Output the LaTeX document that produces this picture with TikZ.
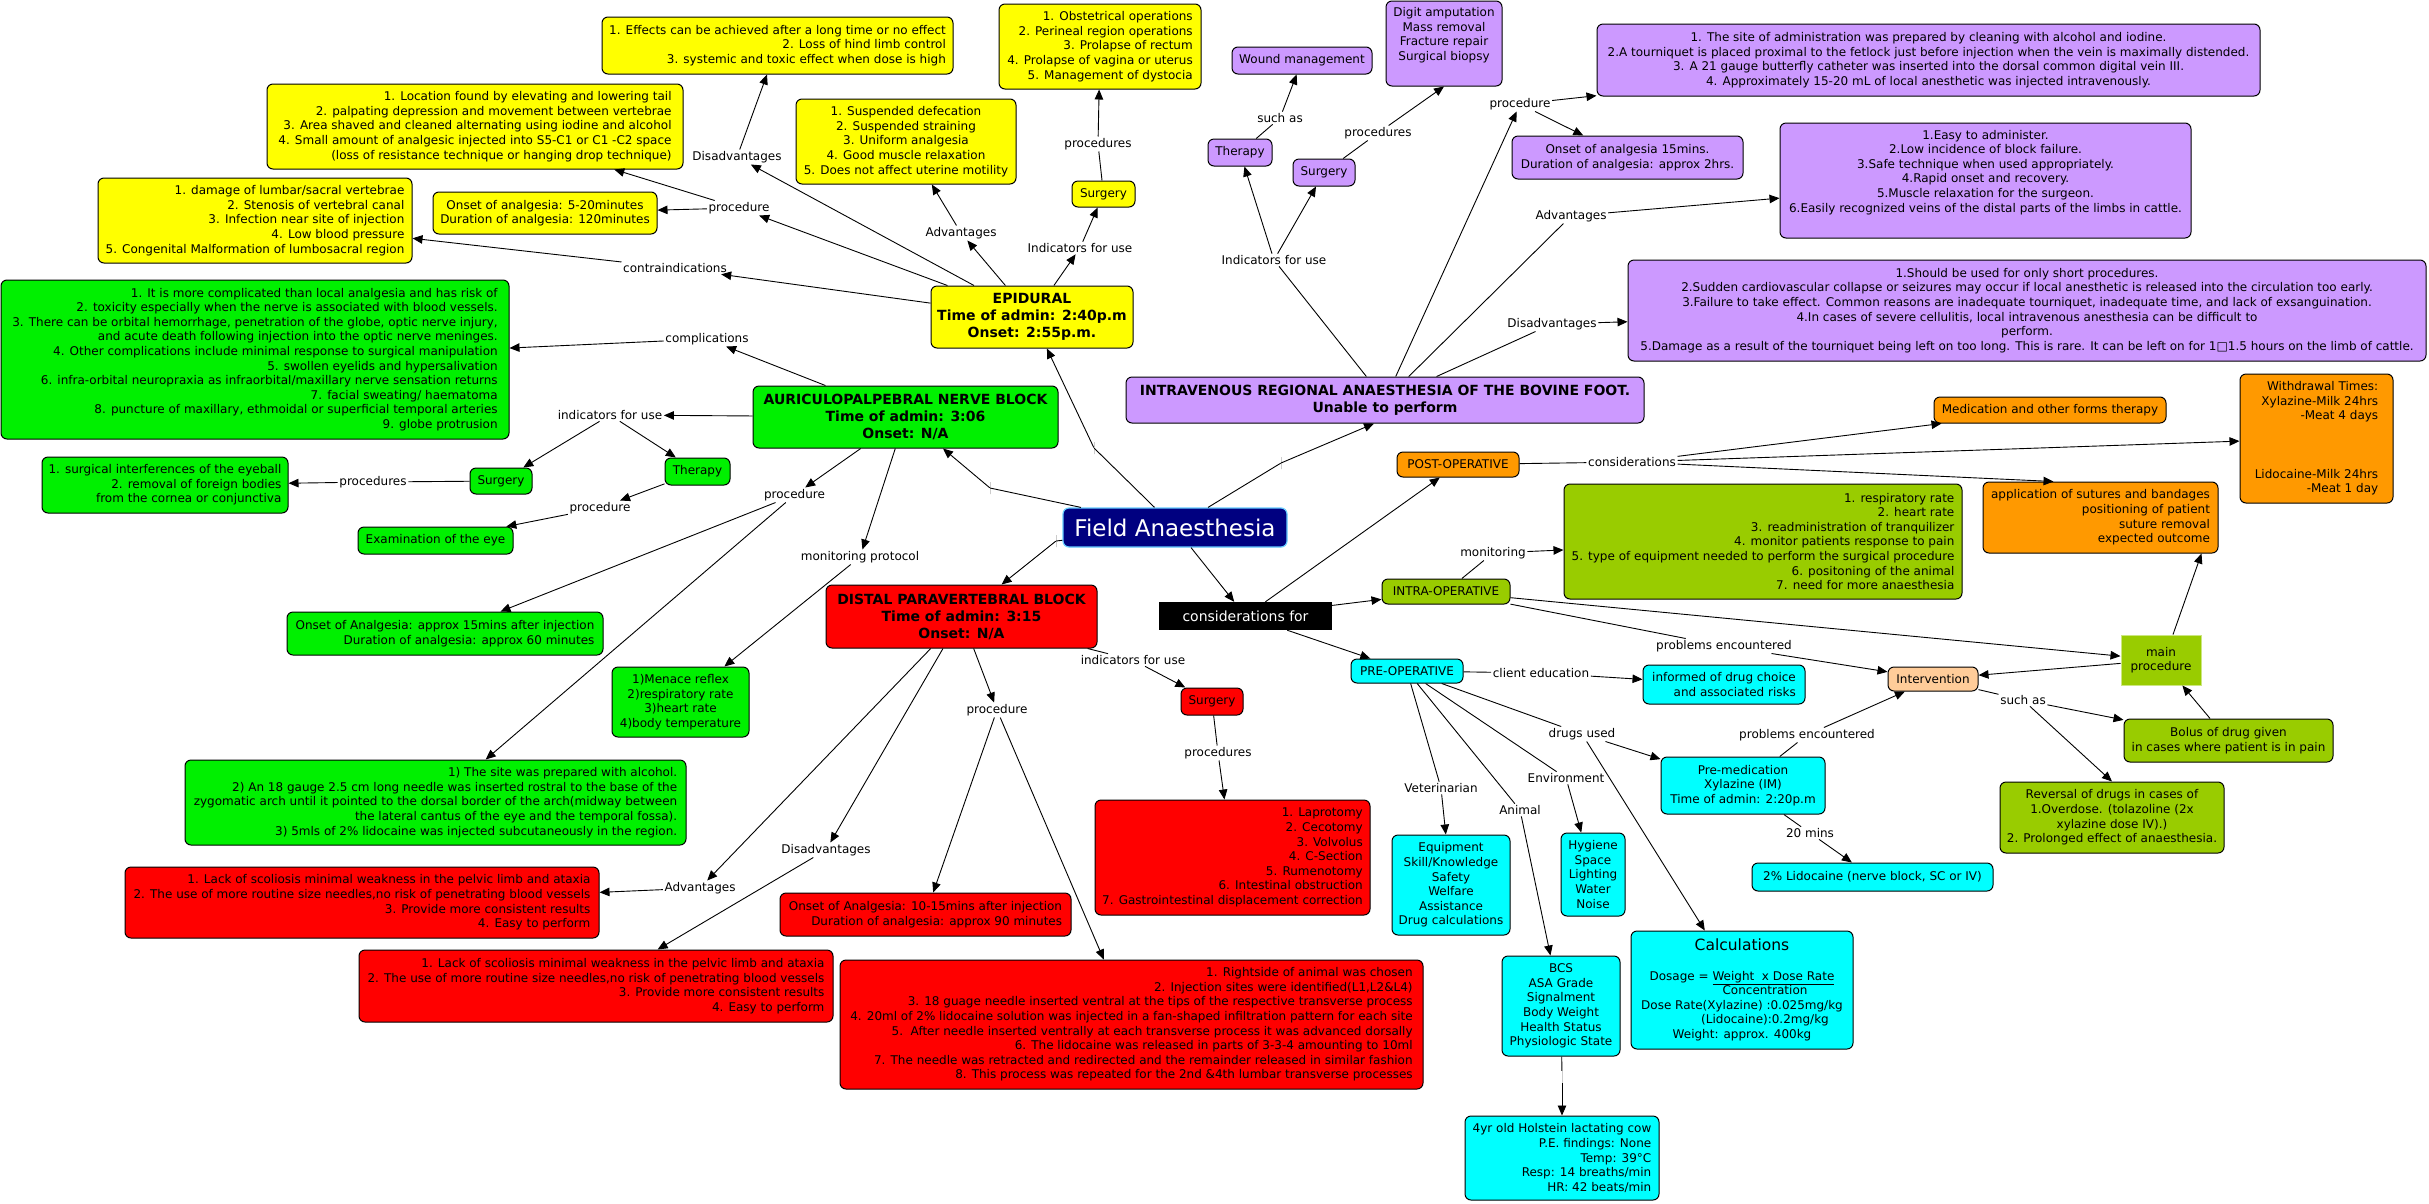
\documentclass[tikz,border=0pt]{standalone}
\usepackage{fontspec}
\setmainfont{DejaVu Sans}
\usetikzlibrary{arrows.meta}
\definecolor{epiyellow}{HTML}{FFFF00}
\definecolor{aurgreen}{HTML}{00F000}
\definecolor{dpbred}{HTML}{FF0000}
\definecolor{ivpurple}{HTML}{CC99FF}
\definecolor{postorange}{HTML}{FF9900}
\definecolor{intragreen}{HTML}{99CC00}
\definecolor{precyan}{HTML}{00FFFF}
\definecolor{fieldnavy}{HTML}{000080}
\definecolor{fieldedge}{HTML}{66CCFF}
\definecolor{peach}{HTML}{FFCC99}
\newcommand{\maptxt}{\fontsize{12}{14.6}\selectfont}
\newcommand{\headtxt}{\fontsize{14}{17}\selectfont\bfseries}
\newcommand{\fieldtxt}{\fontsize{23}{26}\selectfont}
\newcommand{\calctxt}{\fontsize{15.5}{18}\selectfont}
\newcommand{\constxt}{\fontsize{14}{16}\selectfont}
\begin{document}
\begin{tikzpicture}[x=1pt, y=-1pt,
    % Node styles
    box/.style={draw, rounded corners=6pt, line width=1pt, font=\maptxt, inner sep=2pt, align=center},
    boxsize/.style 2 args={minimum width=#1pt, minimum height=#2pt},
    epibox/.style={box, fill=epiyellow},
    aurbox/.style={box, fill=aurgreen},
    dpbbox/.style={box, fill=dpbred},
    ivbox/.style={box, fill=ivpurple},
    postbox/.style={box, fill=postorange},
    intrabox/.style={box, fill=intragreen},
    prebox/.style={box, fill=precyan},
    headtitle/.style={font=\headtxt},
    fieldbox/.style={box, fill=fieldnavy, draw=fieldedge, line width=1.2pt, text=white, font=\fieldtxt},
    consbox/.style={fill=black, text=white, font=\constxt, inner sep=2pt},
    mainbox/.style={fill=intragreen, draw=intragreen!50!white, line width=1pt, font=\maptxt, align=center},
    lnk/.style={font=\maptxt, inner sep=1.5pt},
    gap/.style={draw=gray!40, inner sep=0pt, minimum width=0pt, minimum height=12pt},
    % Arrow styles
    arr/.style={-{Triangle[length=10pt, width=8.5pt]}, line width=0.9pt},
    con/.style={line width=0.9pt},
  ]
  \fill[white] (0,0) rectangle (2429,1203);

  % Centre
  \node[fieldbox, boxsize={224}{39}] (field) at (1175,527.5) {Field Anaesthesia};
  \node[consbox, boxsize={173}{28}] (cons) at (1245.5,616) {considerations for};
  \node[gap] (eAur) at (990,488) {};
  \node[gap] (eEpi) at (1094,448) {};
  \node[gap] (eDpb) at (1056,541) {};
  \node[gap] (eIv) at (1281,463) {};

  % Epidural
  \node[epibox, headtitle, boxsize={202}{62}] (epi) at (1032,317) {EPIDURAL\\Time of admin: 2:40p.m\\Onset: 2:55p.m.};
  \node[epibox, align=right, boxsize={416}{85}] (epiLoc) at (475,126.5) {1. Location found by elevating and lowering tail\\2. palpating depression and movement between vertebrae\\3. Area shaved and cleaned alternating using iodine and alcohol\\4. Small amount of analgesic injected into S5-C1 or C1 -C2 space\\(loss of resistance technique or hanging drop technique)};
  \node[epibox, align=right, boxsize={314}{85}] (epiContra) at (255,220.5) {1. damage of lumbar/sacral vertebrae\\2. Stenosis of vertebral canal\\3. Infection near site of injection\\4. Low blood pressure\\5. Congenital Malformation of lumbosacral region};
  \node[epibox, boxsize={224}{42}] (epiOnset) at (545,213) {Onset of analgesia: 5-20minutes\\Duration of analgesia: 120minutes};
  \node[epibox, align=right, boxsize={351}{57}] (epiDis) at (777.5,45.5) {1. Effects can be achieved after a long time or no effect\\2. Loss of hind limb control\\3. systemic and toxic effect when dose is high};
  \node[epibox, align=right, boxsize={202}{85}] (epiProc) at (1100,46.5) {1. Obstetrical operations\\2. Perineal region operations\\3. Prolapse of rectum\\4. Prolapse of vagina or uterus\\5. Management of dystocia};
  \node[epibox, boxsize={220}{85}] (epiAdv) at (906,141.5) {1. Suspended defecation\\2. Suspended straining\\3. Uniform analgesia\\4. Good muscle relaxation\\5. Does not affect uterine motility};
  \node[epibox, boxsize={63}{26}] (epiSurg) at (1103.5,194) {Surgery};
  \node[lnk] (lContra) at (675,268) {contraindications};
  \node[lnk] (lEpiProc) at (739,208) {procedure};
  \node[lnk] (lEpiDis) at (737,157) {Disadvantages};
  \node[lnk] (lEpiAdv) at (961,233) {Advantages};
  \node[lnk] (lEpiInd) at (1080,248) {Indicators for use};
  \node[lnk] (lEpiProcs) at (1098,144) {procedures};

  % Auriculopalpebral
  \node[aurbox, headtitle, boxsize={305}{62}] (aur) at (905.5,417) {AURICULOPALPEBRAL NERVE BLOCK\\Time of admin: 3:06\\Onset: N/A};
  \node[aurbox, align=right, boxsize={508}{159}] (aurComp) at (255,359.5) {1. It is more complicated than local analgesia and has risk of\\2. toxicity especially when the nerve is associated with blood vessels.\\3. There can be orbital hemorrhage, penetration of the globe, optic nerve injury,\\and acute death following injection into the optic nerve meninges.\\4. Other complications include minimal response to surgical manipulation\\5. swollen eyelids and hypersalivation\\6. infra-orbital neuropraxia as infraorbital/maxillary nerve sensation returns\\7. facial sweating/ haematoma\\8. puncture of maxillary, ethmoidal or superficial temporal arteries\\9. globe protrusion};
  \node[aurbox, boxsize={62}{26}] (aurSurg) at (501,481) {Surgery};
  \node[aurbox, boxsize={65}{27}] (aurTher) at (697.5,471.5) {Therapy};
  \node[aurbox, align=right, boxsize={246}{56}] (aurEye) at (165,485) {1. surgical interferences of the eyeball\\2. removal of foreign bodies\\from the cornea or conjunctiva};
  \node[aurbox, boxsize={155}{27}] (aurExam) at (435.5,540.5) {Examination of the eye};
  \node[aurbox, align=right, boxsize={316}{43}] (aurOnset) at (445,633.5) {Onset of Analgesia: approx 15mins after injection\\Duration of analgesia: approx 60 minutes};
  \node[aurbox, align=right, boxsize={501}{85}] (aurProc) at (435.5,802.5) {1) The site was prepared with alcohol.\\2) An 18 gauge 2.5 cm long needle was inserted rostral to the base of the\\zygomatic arch until it pointed to the dorsal border of the arch(midway between\\the lateral cantus of the eye and the temporal fossa).\\3) 5mls of 2\% lidocaine was injected subcutaneously in the region.};
  \node[aurbox, boxsize={137}{70}] (aurVit) at (680.5,702) {1)Menace reflex\\2)respiratory rate\\3)heart rate\\4)body temperature};
  \node[lnk] (lComp) at (707,339) {complications};
  \node[lnk] (lAurInd) at (610,415) {indicators for use};
  \node[lnk] (lAurSProc) at (373,482) {procedures};
  \node[lnk] (lAurTProc) at (600,508) {procedure};
  \node[lnk] (lAurProc) at (794.5,495) {procedure};
  \node[lnk] (lAurMon) at (860,557) {monitoring protocol};

  % Distal paravertebral
  \node[dpbbox, headtitle, boxsize={271}{63}] (dpb) at (961.5,616.5) {DISTAL PARAVERTEBRAL BLOCK\\Time of admin: 3:15\\Onset: N/A};
  \node[dpbbox, boxsize={62}{27}] (dpbSurg) at (1212,701.5) {Surgery};
  \node[dpbbox, align=right, boxsize={275}{115}] (dpbProcs) at (1232.5,857.5) {1. Laprotomy\\2. Cecotomy\\3. Volvolus\\4. C-Section\\5. Rumenotomy\\6. Intestinal obstruction\\7. Gastrointestinal displacement correction};
  \node[dpbbox, align=right, boxsize={291}{43}] (dpbOnset) at (925.5,914.5) {Onset of Analgesia: 10-15mins after injection\\Duration of analgesia: approx 90 minutes};
  \node[dpbbox, align=right, boxsize={583}{129}] (dpbProc) at (1131.5,1024.5) {1. Rightside of animal was chosen\\2. Injection sites were identified(L1,L2\&L4)\\3. 18 guage needle inserted ventral at the tips of the respective transverse process\\4. 20ml of 2\% lidocaine solution was injected in a fan-shaped infiltration pattern for each site\\5.\ \ After needle inserted ventrally at each transverse process it was advanced dorsally\\6. The lidocaine was released in parts of 3-3-4 amounting to 10ml\\7. The needle was retracted and redirected and the remainder released in similar fashion\\8. This process was repeated for the 2nd \&4th lumbar transverse processes};
  \node[dpbbox, align=right, boxsize={474}{71}] (dpbAdv) at (362,902.5) {1. Lack of scoliosis minimal weakness in the pelvic limb and ataxia\\2. The use of more routine size needles,no risk of penetrating blood vessels\\3. Provide more consistent results\\4. Easy to perform};
  \node[dpbbox, align=right, boxsize={474}{72}] (dpbDis) at (596,986) {1. Lack of scoliosis minimal weakness in the pelvic limb and ataxia\\2. The use of more routine size needles,no risk of penetrating blood vessels\\3. Provide more consistent results\\4. Easy to perform};
  \node[lnk] (lDpbInd) at (1133,660) {indicators for use};
  \node[lnk] (lDpbProcs) at (1218,753) {procedures};
  \node[lnk] (lDpbProc) at (997,710) {procedure};
  \node[lnk] (lDpbDis) at (826,850) {Disadvantages};
  \node[lnk] (lDpbAdv) at (700,888) {Advantages};

  % Intravenous regional
  \node[ivbox, headtitle, boxsize={518}{46}] (ivr) at (1385,400) {INTRAVENOUS REGIONAL ANAESTHESIA OF THE BOVINE FOOT.\\Unable to perform};
  \node[ivbox, boxsize={140}{27}] (ivWound) at (1302,60.5) {Wound management};
  \node[ivbox, boxsize={116}{85}] (ivDigit) at (1444,43.5) {Digit amputation\\Mass removal\\Fracture repair\\Surgical biopsy\\ \strut};
  \node[ivbox, boxsize={64}{27}] (ivTher) at (1240,152.5) {Therapy};
  \node[ivbox, boxsize={62}{27}] (ivSurg) at (1324,172.5) {Surgery};
  \node[ivbox, boxsize={663}{72}] (ivProc) at (1928.5,60) {1. The site of administration was prepared by cleaning with alcohol and iodine.\\2.A tourniquet is placed proximal to the fetlock just before injection when the vein is maximally distended.\\3. A 21 gauge butterfly catheter was inserted into the dorsal common digital vein III.\\4. Approximately 15-20 mL of local anesthetic was injected intravenously.};
  \node[ivbox, boxsize={231}{43}] (ivOnset) at (1627.5,157.5) {Onset of analgesia 15mins.\\Duration of analgesia: approx 2hrs.};
  \node[ivbox, boxsize={411}{115}] (ivAdv) at (1985.5,180.5) {1.Easy to administer.\\2.Low incidence of block failure.\\3.Safe technique when used appropriately.\\4.Rapid onset and recovery.\\5.Muscle relaxation for the surgeon.\\6.Easily recognized veins of the distal parts of the limbs in cattle.\\ \strut};
  \node[ivbox, boxsize={798}{101}] (ivDis) at (2027,310.5) {1.Should be used for only short procedures.\\2.Sudden cardiovascular collapse or seizures may occur if local anesthetic is released into the circulation too early.\\3.Failure to take effect. Common reasons are inadequate tourniquet, inadequate time, and lack of exsanguination.\\4.In cases of severe cellulitis, local intravenous anesthesia can be difficult to\\perform.\\5.Damage as a result of the tourniquet being left on too long. This is rare. It can be left on for 1□1.5 hours on the limb of cattle.};
  \node[lnk] (lIvSuch) at (1280,118) {such as};
  \node[lnk] (lIvProcs) at (1378,133) {procedures};
  \node[lnk] (lIvInd) at (1274,260) {Indicators for use};
  \node[lnk] (lIvProc) at (1520,104) {procedure};
  \node[lnk] (lIvAdv) at (1571,216) {Advantages};
  \node[lnk] (lIvDis) at (1552,324) {Disadvantages};

  % Post-operative
  \node[postbox, boxsize={122}{25}] (post) at (1458,464.5) {POST-OPERATIVE};
  \node[postbox, boxsize={232}{26}] (postMed) at (2050,410) {Medication and other forms therapy};
  \node[postbox, align=right, boxsize={153}{129}] (postWith) at (2316.5,438.5) {Withdrawal Times:\\Xylazine-Milk 24hrs\\-Meat 4 days\\[43.8pt]Lidocaine-Milk 24hrs\\-Meat 1 day};
  \node[postbox, align=right, boxsize={235}{71}] (postSut) at (2100.5,517.5) {application of sutures and bandages\\positioning of patient\\suture removal\\expected outcome};
  \node[lnk] (lPostCons) at (1632,462) {considerations};

  % Intra-operative
  \node[intrabox, boxsize={128}{25}] (intra) at (1446,591.5) {INTRA-OPERATIVE};
  \node[intrabox, align=right, boxsize={398}{115}] (intraMon) at (1763,541.5) {1. respiratory rate\\2. heart rate\\3. readministration of tranquilizer\\4. monitor patients response to pain\\5. type of equipment needed to perform the surgical procedure\\6. positoning of the animal\\7. need for more anaesthesia};
  \node[box, fill=peach, boxsize={90}{24}] (interv) at (1933,679) {Intervention};
  \node[mainbox, boxsize={80}{50}] (mainProc) at (2161,660) {main\\procedure};
  \node[intrabox, boxsize={209}{43}] (bolus) at (2228.5,740.5) {Bolus of drug given\\in cases where patient is in pain};
  \node[intrabox, boxsize={224}{71}] (revers) at (2112,817.5) {Reversal of drugs in cases of\\1.Overdose. (tolazoline (2x\\xylazine dose IV).)\\2. Prolonged effect of anaesthesia.};
  \node[lnk] (lIntraMon) at (1493,553) {monitoring};
  \node[lnk] (lIntraProb) at (1724,646) {problems encountered};
  \node[lnk] (lIntSuch) at (2023,700) {such as};

  % Pre-operative
  \node[prebox, boxsize={112}{24}] (pre) at (1407,671) {PRE-OPERATIVE};
  \node[prebox, align=right, boxsize={162}{39}] (preInf) at (1724,684.5) {informed of drug choice\\and associated risks};
  \node[prebox, boxsize={164}{57}] (preMed) at (1743,785.5) {Pre-medication\\Xylazine (IM)\\Time of admin: 2:20p.m};
  \node[prebox, boxsize={241}{28}] (preLido) at (1872.5,877) {2\% Lidocaine (nerve block, SC or IV)};
  \node[prebox, boxsize={222}{118}] (preCalc) at (1742,990) {{\calctxt Calculations}\\[14.6pt]Dosage = \underline{Weight\ \ x Dose Rate}\\\hspace*{46pt}Concentration\\Dose Rate(Xylazine) :0.025mg/kg\\\hspace*{46pt}(Lidocaine):0.2mg/kg\\Weight: approx. 400kg};
  \node[prebox, boxsize={118}{100}] (preEquip) at (1451,885) {Equipment\\Skill/Knowledge\\Safety\\Welfare\\Assistance\\Drug calculations};
  \node[prebox, boxsize={64}{83}] (preHyg) at (1593,874.5) {Hygiene\\Space\\Lighting\\Water\\Noise};
  \node[prebox, boxsize={118}{100}] (preBcs) at (1561,1006) {BCS\\ASA Grade\\Signalment\\Body Weight\\Health Status\\Physiologic State};
  \node[prebox, align=right, boxsize={194}{84}] (preCow) at (1562,1158) {4yr old Holstein lactating cow\\P.E. findings: None\\Temp: 39°C\\Resp: 14 breaths/min\\HR: 42 beats/min};
  \node[gap] (eCow) at (1562,1077) {};
  \node[lnk] (lPreEdu) at (1541,673) {client education};
  \node[lnk] (lPreDrug) at (1582,734) {drugs used};
  \node[lnk] (lPreProb) at (1807,735) {problems encountered};
  \node[lnk] (l20) at (1810,833) {20 mins};
  \node[lnk] (lPreVet) at (1441,788) {Veterinarian};
  \node[lnk] (lPreAni) at (1520,810) {Animal};
  \node[lnk] (lPreEnv) at (1566,778) {Environment};

  % Plain connectors
  \foreach \a/\b in {epiSurg/lEpiProcs, aurSurg/lAurSProc, dpb/lDpbInd, dpbSurg/lDpbProcs,
      ivr/lIvInd, ivTher/lIvSuch, ivSurg/lIvProcs, ivr/lIvAdv, ivr/lIvDis,
      field/eAur, field/eEpi, field/eDpb, field/eIv, post/lPostCons, intra/lIntraMon,
      intra/lIntraProb, interv/lIntSuch, pre/lPreEdu, pre/lPreDrug, preMed/lPreProb,
      preMed/l20, pre/lPreVet, pre/lPreAni, pre/lPreEnv, preBcs/eCow} {
    \draw[con] (\a) -- (\b);
  }

  % Arrows
  \foreach \a/\b in {epi/lContra, lContra/epiContra, epi/lEpiProc, lEpiProc/epiOnset,
      lEpiProc/epiLoc, epi/lEpiDis, lEpiDis/epiDis, epi/lEpiAdv, lEpiAdv/epiAdv,
      epi/lEpiInd, lEpiInd/epiSurg, lEpiProcs/epiProc,
      aur/lComp, lComp/aurComp, aur/lAurInd, lAurInd/aurSurg, lAurInd/aurTher,
      lAurSProc/aurEye, aurTher/lAurTProc, lAurTProc/aurExam, aur/lAurProc,
      lAurProc/aurOnset, lAurProc/aurProc, aur/lAurMon, lAurMon/aurVit,
      lDpbInd/dpbSurg, lDpbProcs/dpbProcs, dpb/lDpbProc, lDpbProc/dpbOnset,
      lDpbProc/dpbProc, dpb/lDpbDis, lDpbDis/dpbDis, dpb/lDpbAdv, lDpbAdv/dpbAdv,
      lIvInd/ivTher, lIvInd/ivSurg, lIvSuch/ivWound, ivr/lIvProc, lIvProc/ivProc,
      lIvProc/ivOnset, lIvAdv/ivAdv, lIvDis/ivDis,
      eAur/aur, eEpi/epi, eDpb/dpb, field/cons, cons/post, cons/intra, cons/pre,
      lPostCons/postMed, lPostCons/postWith, lIntraMon/intraMon, lIntraProb/interv,
      intra/mainProc, mainProc/interv, lIntSuch/bolus, bolus/mainProc,
      lPreEdu/preInf, lPreDrug/preMed, lPreDrug/preCalc, lPreProb/interv, l20/preLido,
      lPreVet/preEquip, lPreAni/preBcs, lPreEnv/preHyg, eCow/preCow} {
    \draw[arr] (\a) -- (\b);
  }
  \draw[arr] (lIvProcs) -- (ivDigit.south);
  \draw[arr] (eIv) -- ([xshift=-11pt]ivr.south);
  \draw[arr] (lPostCons) -- ([xshift=-47pt]postSut.north);
  \draw[arr] (lIntSuch) -- (revers.north);
  \draw[arr] ([xshift=12pt]mainProc.north) -- ([xshift=-17pt]postSut.south east);
\end{tikzpicture}
\end{document}
